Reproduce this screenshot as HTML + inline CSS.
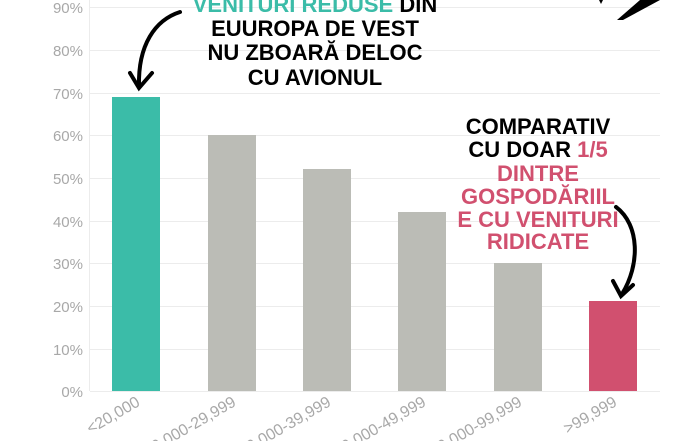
<!DOCTYPE html>
<html><head><meta charset="utf-8"><style>
html,body{margin:0;padding:0;background:#fff;}
svg{display:block;}
.t{font-family:"Liberation Sans Narrow","Liberation Sans",sans-serif;font-weight:bold;font-size:22px;text-anchor:middle;}
.y{font-family:"Liberation Sans",sans-serif;font-size:15px;fill:#a8a8a8;text-anchor:end;}
.x{font-family:"Liberation Sans",sans-serif;font-size:16px;fill:#a8a8a8;text-anchor:end;}
</style></head><body>
<svg width="700" height="441" viewBox="0 0 700 441">
<g stroke="#ececec" stroke-width="1">
<line x1="90" x2="660" y1="7.5" y2="7.5"/><line x1="90" x2="660" y1="50.5" y2="50.5"/>
<line x1="90" x2="660" y1="93.5" y2="93.5"/><line x1="90" x2="660" y1="135.5" y2="135.5"/>
<line x1="90" x2="660" y1="178.5" y2="178.5"/><line x1="90" x2="660" y1="221.5" y2="221.5"/>
<line x1="90" x2="660" y1="263.5" y2="263.5"/><line x1="90" x2="660" y1="306.5" y2="306.5"/>
<line x1="90" x2="660" y1="349.5" y2="349.5"/><line x1="90" x2="660" y1="391.5" y2="391.5"/>
<line x1="89.5" x2="89.5" y1="0" y2="391"/>
</g>
<g class="y">
<text x="83" y="13">90%</text><text x="83" y="56">80%</text><text x="83" y="99">70%</text>
<text x="83" y="141">60%</text><text x="83" y="184">50%</text><text x="83" y="227">40%</text>
<text x="83" y="269">30%</text><text x="83" y="312">20%</text><text x="83" y="355">10%</text>
<text x="83" y="397">0%</text>
</g>
<rect x="112" y="97" width="48" height="294" fill="#3bbca8"/>
<rect x="208" y="135" width="48" height="256" fill="#bbbcb6"/>
<rect x="303" y="169" width="48" height="222" fill="#bbbcb6"/>
<rect x="398" y="212" width="48" height="179" fill="#bbbcb6"/>
<rect x="494" y="263" width="48" height="128" fill="#bbbcb6"/>
<rect x="589" y="301" width="48" height="90" fill="#d1506f"/>
<g class="x">
<text transform="translate(141,405) rotate(-30)">&lt;20,000</text>
<text transform="translate(237,405) rotate(-30)">20,000-29,999</text>
<text transform="translate(332,405) rotate(-30)">30,000-39,999</text>
<text transform="translate(427,405) rotate(-30)">40,000-49,999</text>
<text transform="translate(523,405) rotate(-30)">50,000-99,999</text>
<text transform="translate(618,405) rotate(-30)">&gt;99,999</text>
</g>
<g class="t">
<text x="315" y="12"><tspan fill="#3bbca8">VENITURI REDUSE</tspan> DIN</text>
<text x="315" y="36">EUUROPA DE VEST</text>
<text x="315" y="60">NU ZBOARĂ DELOC</text>
<text x="315" y="85">CU AVIONUL</text>
<text x="538" y="134">COMPARATIV</text>
<text x="538" y="157">CU DOAR <tspan fill="#d1506f">1/5</tspan></text>
<g fill="#d1506f">
<text x="538" y="181">DINTRE</text>
<text x="538" y="204">GOSPODĂRIIL</text>
<text x="538" y="227">E CU VENITURI</text>
<text x="538" y="249">RIDICATE</text>
</g>
</g>
<g fill="none" stroke="#000" stroke-width="4" stroke-linecap="round">
<path d="M180,12 C155,20 138,45 139,86"/>
<path d="M130,73 L139,88 L152,73"/>
<path d="M616,207 C640,225 640,265 622,294"/>
<path d="M613,281 L621,296 L633,285"/>
</g>
<path d="M617,20 L640,0 L660,0 L623,20 Z" fill="#000"/>
<path d="M599,0 L603,0 L601,4 Z" fill="#000"/>
</svg>
</body></html>
